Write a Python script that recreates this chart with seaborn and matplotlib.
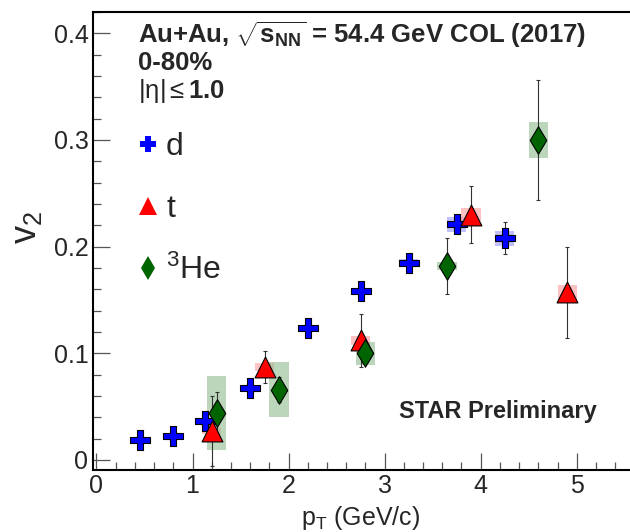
import numpy as np
import pandas as pd
import matplotlib
matplotlib.use("Agg")
import matplotlib.pyplot as plt
import seaborn as sns
from matplotlib.patches import Rectangle
from matplotlib.lines import Line2D
from matplotlib.ticker import MultipleLocator

# deuteron
d_pt = [0.45, 0.8, 1.13, 1.6, 2.2, 2.75, 3.25, 3.75, 4.25]
d_v2 = [0.019, 0.022, 0.036, 0.067, 0.124, 0.158, 0.185, 0.221, 0.208]
d_err = [0.002, 0.002, 0.003, 0.004, 0.005, 0.006, 0.007, 0.008, 0.015]
d_sys = [0.001, 0.001, 0.001, 0.002, 0.002, 0.003, 0.003, 0.007, 0.007]

# triton
t_pt = [1.2, 1.75, 2.75, 3.9, 4.9]
t_v2 = [0.027, 0.087, 0.112, 0.230, 0.157]
t_err = [0.033, 0.015, 0.025, 0.027, 0.043]
t_sys = [0.003, 0.004, 0.004, 0.006, 0.007]

# helium-3
h_pt = [1.25, 1.9, 2.8, 3.65, 4.6]
h_v2 = [0.044, 0.066, 0.100, 0.182, 0.300]
h_err = [0.020, 0.012, 0.008, 0.026, 0.056]
h_sys = [0.035, 0.026, 0.011, 0.004, 0.017]

sns.set_style("ticks")
plt.rcParams['font.family'] = ['Liberation Sans', 'DejaVu Sans']
plt.rcParams['mathtext.fontset'] = 'custom'
plt.rcParams['mathtext.rm'] = 'Liberation Sans'
plt.rcParams['mathtext.it'] = 'Liberation Sans:italic'
plt.rcParams['mathtext.bf'] = 'Liberation Sans:bold'

fig = plt.figure(figsize=(6.3, 5.32), dpi=100)
ax = fig.add_axes([0.147, 0.1165, 0.86, 0.861])

species = [
    ("d", d_pt, d_v2, d_err, d_sys, "#0000ff", "#9999ff", "P", 15, 12),
    ("t", t_pt, t_v2, t_err, t_sys, "#ff0000", "#ff9999", "^", 15, 12.5),
    ("$^{3}$He", h_pt, h_v2, h_err, h_sys, "#006400", "#8fbc8f", "d", 14, 12),
]

handles = []
for name, pt, v2, err, sys_, col, boxcol, mk, ms, lms in species:
    for x, y, s in zip(pt, v2, sys_):
        ax.add_patch(Rectangle((x - 0.1, y - s), 0.2, 2 * s, facecolor=boxcol,
                               edgecolor="none", alpha=0.6, zorder=1))
    ax.errorbar(pt, v2, yerr=err, fmt="none", ecolor="#333333", elinewidth=0.8,
                capsize=1.5, capthick=0.8, zorder=2)
    df = pd.DataFrame({"pt": pt, "v2": v2})
    sns.scatterplot(data=df, x="pt", y="v2", ax=ax, marker=mk, s=ms ** 2,
                    color=col, edgecolor="black", linewidth=0.8, zorder=3,
                    legend=False)
    handles.append(Line2D([], [], linestyle="none", marker=mk, color=col,
                          markeredgewidth=0, markersize=lms, label=name))

ax.set_xlim(-0.04, 5.6)
ax.set_ylim(-0.0095, 0.42)
ax.xaxis.set_major_locator(MultipleLocator(1))
ax.xaxis.set_minor_locator(MultipleLocator(0.2))
ax.set_yticks([0, 0.1, 0.2, 0.3, 0.4])
ax.set_yticklabels(["0", "0.1", "0.2", "0.3", "0.4"])
ax.yaxis.set_minor_locator(MultipleLocator(0.02))
ax.tick_params(which="both", direction="in", labelsize=18, width=0.9,
               color="#555555", pad=3)
ax.tick_params(which="major", length=12)
ax.tick_params(which="minor", length=6)
for sp in ax.spines.values():
    sp.set_linewidth(1.5)
    sp.set_color("black")

ax.set_xlabel("p$_{\\mathrm{T}}$ (GeV/c)", fontsize=18)
ax.xaxis.set_label_coords(0.495, -0.075)
ax.set_ylabel("v$_{2}$", fontsize=26)
ax.yaxis.set_label_coords(-0.09, 0.53)

ax.legend(handles=handles, loc="upper left", bbox_to_anchor=(0.05, 0.765),
          frameon=False, fontsize=23, labelspacing=0.98, handletextpad=0.1,
          handlelength=0.95, borderaxespad=0.0)

ax.text(0.083, 0.95, r"Au+Au, $\sqrt{\mathbf{s}_{\mathbf{NN}}}$ = 54.4 GeV COL (2017)",
        transform=ax.transAxes, fontsize=18.5, fontweight="bold", va="center")
ax.text(0.083, 0.888, "0-80%", transform=ax.transAxes, fontsize=18.5,
        fontweight="bold", va="center")
ax.text(0.083, 0.828, r"$\mathrm{|\eta|\leq}\mathbf{1.0}$", transform=ax.transAxes,
        fontsize=18.5, va="center")
ax.text(0.566, 0.128, "STAR Preliminary", transform=ax.transAxes,
        fontsize=17, fontweight="bold", va="center")

fig.savefig("out.png", dpi=100)
